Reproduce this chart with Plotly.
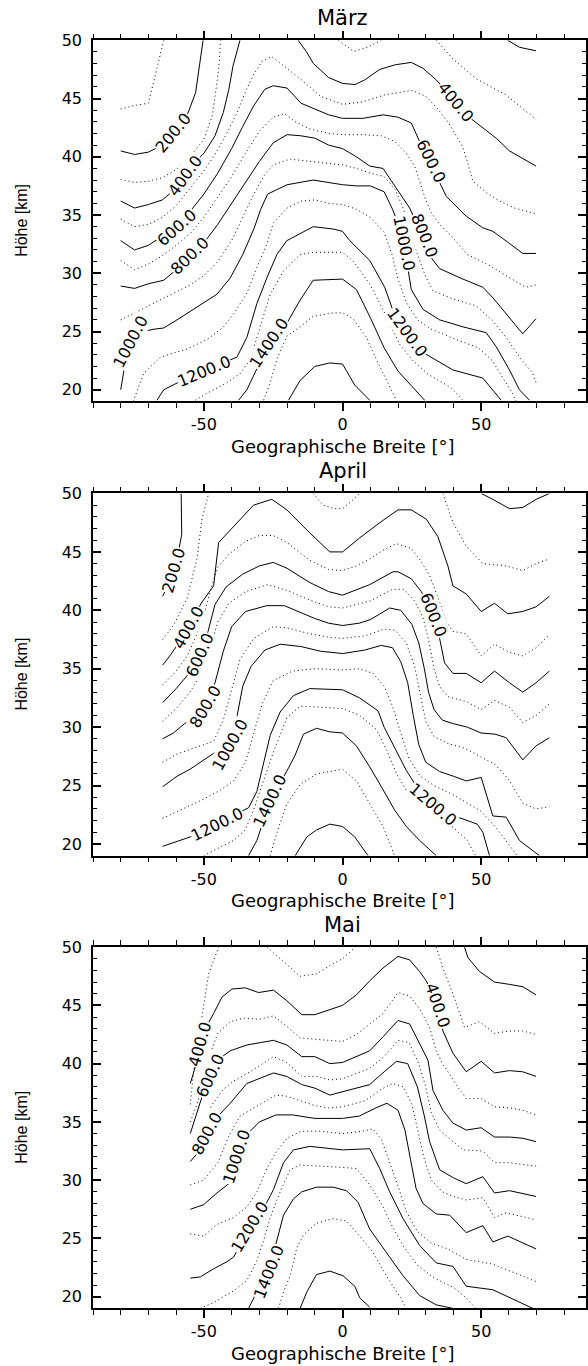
import math
import plotly.graph_objects as go

N = None  # line break (gap) inside a contour level

# ================= März : contour polylines (lat [deg], height [km]) =================
MAR_100 = [(-80,44.1),(-75,44.4),(-70,44.6),(-68.5,46.0),(-66.5,48.0),(-64.5,50.0)]
MAR_200 = [(-80,40.5),(-75,40.2),(-70,40.4),(-65,41.0),(-61,42.1),(-56,43.6),(-53,45.5),(-51.5,48.0),(-50.3,50.0),N,
           (59.6,50.0),(63.8,49.4),(69.8,49.1)]
MAR_300 = [(-80,38.05),(-75,37.8),(-70,37.9),(-65,38.2),(-60,38.9),(-55,40.0),(-50,41.5),(-47,43.5),(-45.5,46.0),(-44.5,48.0),(-44,50.0),N,
           (-1.5,50.0),(1,49.6),(4,49.05),(9,49.4),(14,50.0),N,
           (33.8,50.0),(39.8,48.4),(48.2,46.7),(59,45.3),(69.8,43.2)]
MAR_400 = [(-80,36.2),(-75,35.6),(-70,35.9),(-65,36.3),(-60,37.3),(-56.7,38.4),(-53,39.6),(-50,40.3),(-46,41.8),(-43,43.8),(-41,45.8),(-39.5,47.8),(-37,50.0),N,
           (-16,50.0),(-13,49.0),(-10.5,48.0),(-5,46.8),(0,46.3),(4.5,46.2),(8,46.6),(13.4,47.5),(19,47.9),(24.8,48.1),(29,47.6),(33.8,46.6),
           (37.5,45.6),(41,44.7),(44,43.7),(48.2,42.9),(55.4,41.6),(60.2,40.5),(69.8,39.2)]
MAR_500 = [(-80,34.65),(-75,34.0),(-70,34.2),(-65,34.8),(-60,35.8),(-55,37.3),(-50,38.8),(-46,40.2),(-42,41.9),(-38,43.8),(-35,45.6),(-32,47.1),
           (-29,48.2),(-25.5,48.6),(-20,47.6),(-15.3,46.7),(-8,45.2),(0,44.5),(7,44.7),(15,45.3),(25,45.7),(30,45.2),(34,44.2),(38,43.0),
           (41,41.8),(43.4,40.8),(45,39.6),(47,37.9),(52,36.9),(56.6,36.2),(62,35.6),(69.8,35.1)]
MAR_600 = [(-80,32.8),(-75,32.0),(-70,32.4),(-65,33.2),(-59.7,33.9),(-55,35.3),(-50,36.8),(-45,38.6),(-40,40.7),(-36,42.6),(-32,44.4),(-28,45.8),
           (-25,46.1),(-20,45.9),(-15,44.6),(-10,44.1),(-5,43.6),(0,43.3),(7.4,43.3),(14.6,43.6),(20,43.4),(24.8,42.9),(27.8,41.3),(32,39.6),
           (35,37.8),(37.4,36.6),(44.6,34.9),(50.6,33.9),(54.2,33.6),(60,32.6),(65,31.7),(69.8,31.7)]
MAR_700 = [(-80,31.1),(-75,30.3),(-70,30.8),(-65,31.5),(-60,32.4),(-55,33.4),(-50,34.8),(-45,36.5),(-40,38.3),(-35,40.3),(-30,42.2),(-25,43.4),
           (-21,43.7),(-17,43.0),(-12,42.4),(-5,42.0),(0,41.9),(7,41.9),(14,41.8),(19,41.3),(23,40.3),(26,39.2),(28,37.8),(30,36.3),(32,35.2),
           (35,34.2),(40,33.0),(45,31.6),(52,30.8),(57,30.1),(62,29.4),(66,28.8),(69.8,29.0)]
MAR_800 = [(-80,28.9),(-75,28.7),(-70,29.1),(-64.5,29.4),(-60,30.3),(-54.9,31.5),(-50,32.6),(-45,34.2),(-40,36.0),(-35,37.8),(-30,39.6),(-25,41.2),
           (-20,41.9),(-15,41.8),(-10,41.6),(-5,41.0),(0,40.7),(5,40.0),(9.8,39.2),(14.6,39.0),(19.4,37.3),(24.2,35.6),(26.5,34.4),(29.4,33.2),
           (31.4,31.5),(35,30.4),(43.4,29.5),(50.6,28.8),(54.2,27.9),(59,26.5),(65,24.8),(69.8,26.1)]
MAR_900 = [(-80,26.0),(-75,26.6),(-70,27.2),(-65,27.8),(-60,28.4),(-55,29.0),(-50,29.8),(-45,31.0),(-40,32.8),(-36,34.8),(-32,36.8),(-28,38.5),
           (-25,39.3),(-19,39.8),(-10.6,39.6),(0,39.3),(5,39.0),(10,38.6),(15,38.3),(19,37.2),(22,35.5),(25,33.0),(27.5,31.3),(30,29.7),
           (32.6,28.5),(39.8,27.8),(48.2,27.2),(54.2,25.9),(59,24.5),(63.8,22.8),(68.6,21.4),(69.8,20.6)]
MAR_1000 = [(-80,20.0),(-78.6,22.0),(-76.3,24.1),(-72,25.0),(-68,25.2),(-64.5,25.3),(-59.7,26.0),(-55,26.7),(-51,27.3),(-45.3,28.2),(-40.5,29.6),
            (-36,31.6),(-32,33.8),(-29.5,35.5),(-27,36.8),(-20,37.6),(-10.6,38.0),(-5,37.8),(0,37.6),(5,37.5),(10,37.5),(15,37.0),(18,35.5),
            (20.5,34.0),(22,32.6),(23.5,30.5),(24.8,28.6),(29,26.9),(35,26.0),(43.4,25.4),(51.8,24.9),(55.4,23.7),(60.2,21.7),(63.8,20.0),(67.4,19.1)]
MAR_1100 = [(-75.5,19.0),(-71.7,21.4),(-65.7,22.8),(-56.1,23.5),(-48.9,24.3),(-42.9,25.4),(-39.3,26.5),(-34.5,28.3),(-30.9,30.5),(-27.3,32.5),
            (-25,34.3),(-20,35.6),(-15,36.2),(-10,36.3),(-5,36.0),(0,35.9),(5,35.5),(10,34.8),(15,33.5),(18,31.5),(20,29.5),(23,27.5),(27,26.0),
            (32,25.2),(40,24.4),(49,23.6),(54,22.5),(58,21.0),(61,19.8),(62.6,19.0)]
MAR_1200 = [(-66.9,19.1),(-64.5,20.0),(-57,20.9),(-50.1,21.6),(-44,22.2),(-38.1,22.8),(-34.5,24.5),(-30.9,27.4),(-27.3,29.6),(-23.7,31.6),
            (-20.1,32.8),(-17.7,33.1),(-10.6,34.0),(-3.4,33.8),(0,33.6),(2.6,32.8),(9.8,31.1),(15.2,28.8),(18.2,26.8),(20.5,25.8),(23.3,24.9),
            (26,24.0),(29,23.2),(39.8,21.7),(50.6,21.0),(57.2,19.1)]
MAR_1300 = [(-53.1,19.1),(-48.9,19.7),(-41.7,20.6),(-36.9,21.4),(-33.3,22.6),(-29.7,25.4),(-26.1,28.2),(-21.3,30.2),(-15.3,31.6),(-10.6,31.8),
            (0,31.8),(4,31.0),(10,29.0),(16,26.2),(20.6,23.9),(25.4,22.5),(31,21.3),(39,20.2),(43.4,19.1)]
MAR_1400 = [(-37.5,19.1),(-34.5,20.0),(-30.5,22.0),(-26.7,24.0),(-20.1,25.7),(-15.3,27.7),(-10.6,29.4),(-3.4,29.5),(0,29.5),(5,28.6),(10,26.2),
            (15,23.6),(20,21.6),(25,20.3),(29.6,19.1)]
MAR_1500 = [(-28.5,19.1),(-26.1,20.6),(-23.7,22.6),(-20.1,24.6),(-15.3,25.4),(-10.6,26.3),(-3.4,26.6),(0,26.6),(3.8,26.1),(8.6,24.5),(12.2,22.6),
            (15.8,20.9),(19.4,19.1)]
MAR_1600 = [(-19.5,19.1),(-15.3,20.8),(-10,22.0),(-4.6,22.3),(0,22.2),(4.4,20.4),(9.8,19.1)]
MAR_LABELS = [(200,-61),(400,-56.7),(600,-59.7),(800,-54.9),(1000,-76.3),(1200,-50.1),(1400,-26.7),
              (400,41),(600,32),(800,29.4),(1000,22),(1200,23.3)]

# ================= April =================
APR_200 = [(-64.9,41.2),(-62.7,42.2),(-60.9,43.4),(-59.2,45.0),(-58.0,46.5),(-58.0,48.5),(-58.2,50.0),N,
           (50,50.0),(54.2,49.5),(60.2,48.7),(65,48.8),(69.8,49.5),(74.6,50.0)]
APR_300 = [(-64.9,37.5),(-61,38.7),(-56.1,41.0),(-52.5,44.4),(-50.7,47.8),(-48.3,50.0),N,
           (-10.6,50.0),(-7,49.0),(-3,48.7),(0,48.7),(3,49.3),(6.2,50.0),N,
           (36.2,50.0),(39.8,47.5),(44.6,45.5),(50.6,44.0),(59,43.8),(65,43.4),(69.8,44.0),(74.6,44.4)]
APR_400 = [(-64.9,35.3),(-62,36.2),(-58.5,37.4),(-55.5,38.5),(-51,40.6),(-46.5,42.1),(-44.7,45.8),(-39.3,47.2),(-32.1,49.0),(-25.5,49.5),
           (-20.1,48.6),(-11.7,46.6),(-4.6,45.0),(0,45.0),(6.2,46.2),(13.4,47.5),(20,48.6),(24.8,48.6),(30.2,47.8),(34.4,46.3),(38,43.8),
           (39.8,42.1),(44.6,41.4),(50,39.9),(54.8,40.6),(59.6,39.7),(65,39.9),(69.8,40.3),(74.6,41.2)]
APR_500 = [(-64.9,33.6),(-60,34.8),(-56,36.1),(-53,37.7),(-50,39.6),(-47.5,41.8),(-45,43.7),(-41,44.8),(-35,45.9),(-30,46.4),(-25,46.4),
           (-20,45.8),(-12,44.3),(-5,43.5),(0,43.4),(5,43.8),(9.8,44.4),(15,45.2),(19.4,45.7),(24.8,45.3),(28,44.3),(31.4,43.0),(35,40.7),
           (37.5,39.0),(39.8,38.2),(44.6,38.0),(50,36.1),(54.8,37.1),(60.2,36.4),(65,36.1),(69.8,36.8),(74.6,37.9)]
APR_600 = [(-64.9,32.1),(-60,33.3),(-55,34.7),(-51.3,36.2),(-48.5,38.2),(-46,40.5),(-42,42.0),(-36,43.1),(-30,43.8),(-25,44.1),(-20,43.6),
           (-12,42.4),(-5,41.6),(0,41.3),(9.8,42.2),(18.2,43.3),(20,43.3),(24.8,42.7),(28.4,41.6),(32.6,39.6),(35,37.6),(36.8,35.5),(39.8,34.6),
           (44.6,34.6),(50,33.8),(54.8,34.8),(60.2,33.8),(65,33.0),(69.8,33.8),(74.6,34.8)]
APR_700 = [(-64.9,30.5),(-60,31.6),(-55,33.0),(-51,34.6),(-48,36.6),(-45,39.0),(-41,40.6),(-35,41.6),(-27,42.2),(-20,41.7),(-12,40.9),(-5,40.3),
           (0,40.2),(10,40.8),(18,41.8),(22,41.8),(26,40.8),(29,39.4),(31,37.5),(33,35.0),(35,33.5),(38,32.6),(44.6,32.2),(50,31.5),(54.8,32.3),
           (60.2,31.7),(65,30.4),(69.8,31.0),(74.6,32.0)]
APR_800 = [(-64.9,29.0),(-61,29.5),(-57,30.3),(-53,31.0),(-49.5,31.8),(-46,33.8),(-43,36.5),(-40,38.6),(-35,39.9),(-27.3,40.4),(-21,40.4),
           (-15,39.8),(-10,39.3),(-5,38.9),(0,38.7),(6,38.9),(10,39.2),(17,40.2),(21,40.0),(25,38.8),(27.5,37.2),(29.5,35.0),(31,33.0),(33,31.5),
           (36,30.6),(40,30.3),(45,30.0),(50,29.5),(55,29.4),(59,29.1),(65,27.2),(69.8,28.4),(74.6,29.1)]
APR_900 = [(-64.9,27.0),(-59.7,27.7),(-51.3,28.4),(-46.5,28.8),(-43,30.6),(-40,33.2),(-37,35.8),(-32,37.6),(-25,38.6),(-20,38.5),(-12,38.0),
           (-5,37.7),(0,37.6),(8,37.8),(15,38.4),(19,38.3),(23,37.2),(26,35.2),(28,32.8),(30,30.5),(33,29.2),(38,28.6),(44,28.2),(50,27.4),
           (55,26.8),(60,25.5),(65,23.5),(69.8,23.0),(74.6,23.2)]
APR_1000 = [(-64.9,24.9),(-59.7,25.8),(-55,26.4),(-50,27.2),(-45,28.0),(-40.5,28.5),(-38,31.0),(-36,33.5),(-33,35.2),(-28,36.6),(-22.5,37.1),
            (-15,36.9),(-8,36.5),(0,36.3),(8,36.6),(14,37.0),(18,36.8),(21,35.6),(23.5,33.8),(25.5,31.0),(27.5,28.5),(30,27.0),(35,26.2),
            (40,25.8),(44.6,25.4),(50,25.7),(54.2,22.4),(59,22.3),(63.8,20.3),(71,19.0)]
APR_1100 = [(-64.9,22.2),(-58.5,22.9),(-51.3,23.7),(-44.1,24.6),(-39.3,25.4),(-35,27.0),(-32,29.5),(-29,32.0),(-25,34.0),(-18,34.8),(-10,35.0),
            (0,34.9),(6,35.0),(11,34.6),(15,33.5),(18,31.8),(21,29.5),(24,27.3),(28,25.8),(33,25.0),(40,24.2),(45,23.5),(50,22.8),(55,21.5),
            (60,20.0),(63,19.0)]
APR_1200 = [(-64.9,19.8),(-55,20.6),(-45.3,21.7),(-38,22.6),(-33.9,23.1),(-30.9,24.5),(-28.5,26.8),(-26.1,29.3),(-22.5,31.3),(-17.7,32.7),
            (-11.8,33.3),(0,33.2),(6.2,32.5),(12.8,31.4),(15,30.0),(19.4,28.0),(23,26.3),(27,24.8),(32.6,23.4),(38,22.6),(44.6,22.0),(48.6,21.7),
            (50.6,21.0),(53,19.0)]
APR_1300 = [(-50.1,19.0),(-39.3,20.3),(-35.1,21.2),(-32.1,22.9),(-28.5,25.4),(-24.9,27.9),(-20.1,30.8),(-15.3,31.8),(0,31.6),(6.2,31.0),
            (12.2,29.8),(16,28.0),(19.5,26.0),(23,24.6),(27,23.6),(33,22.5),(40,21.4),(45,20.3),(48,19.0)]
APR_1400 = [(-33.9,19.0),(-30.9,20.3),(-28.5,22.0),(-26.1,23.7),(-19.5,26.5),(-17.1,27.6),(-14.1,29.4),(-9.4,29.9),(-4.6,29.6),(0,29.5),
            (5,28.4),(9.8,26.6),(14,24.9),(18.8,22.9),(23,21.5),(27.8,20.3),(33.8,19.0)]
APR_1500 = [(-26.1,19.0),(-23.1,21.4),(-20.1,23.4),(-15.3,25.1),(-9.4,26.0),(0,26.4),(5,25.4),(9.8,23.4),(14.6,21.5),(18.8,19.0)]
APR_1600 = [(-17.1,19.0),(-12.9,20.6),(-9.4,21.2),(-4.6,21.7),(0,21.5),(4.4,20.6),(9.2,19.0)]
APR_LABELS = [(200,-60.9),(400,-55.5),(600,-51.3),(800,-49.5),(1000,-40.5),(1200,-45.3),(1400,-26.1),(600,32.6),(1200,32.6)]

# ================= Mai =================
MAI_200 = [(44,50.0),(45.2,49.1),(49.4,47.9),(54.8,47.0),(60.2,46.8),(65,46.6),(69.8,45.9)]
MAI_300 = [(-54.9,36.5),(-54.2,38.5),(-53.7,39.4),(-52.5,41.5),(-51.3,43.1),(-48.3,47.7),(-44.7,50.0),N,
           (-27.3,50.0),(-20.1,48.5),(-15.3,47.5),(-9.4,47.7),(-4,48.5),(0,49.0),(3.8,49.8),(4.6,50.0),N,
           (33.8,50.0),(36.2,48.2),(39.8,46.0),(44,43.1),(49.4,43.6),(54.8,42.6),(60.2,42.8),(65,42.8),(69.8,42.5)]
MAI_400 = [(-54.9,38.3),(-53,39.8),(-51.3,41.7),(-48.8,43.3),(-46.5,44.3),(-43.5,45.7),(-39.9,46.4),(-35.1,46.5),(-30.3,46.1),(-24.9,46.3),
           (-20.1,45.4),(-14.7,44.2),(-10,44.2),(-4.6,44.6),(0,45.0),(5,45.9),(9.8,47.1),(14.6,48.2),(20,49.2),(24.2,48.9),(27.8,47.9),
           (30.2,47.1),(34.4,45.0),(36.2,42.8),(39.8,40.9),(44.6,39.3),(50,40.2),(54.8,39.2),(60.2,39.4),(65,39.3),(69.8,38.9)]
MAI_500 = [(-54.9,35.0),(-52.5,36.5),(-50,38.5),(-47.5,41.0),(-45,42.6),(-40.5,43.6),(-35.7,43.9),(-30,43.8),(-24.9,44.1),(-20.1,43.2),
           (-15.3,42.2),(-10,42.1),(-5,42.0),(0,41.9),(5,42.5),(9.8,43.4),(14.6,44.3),(20,46.1),(24.2,45.8),(27.8,44.7),(31.4,43.1),(33.8,41.1),
           (36,40.0),(38.6,39.1),(41.5,38.0),(44.6,37.0),(50,37.0),(54.8,36.3),(60.2,36.2),(65,36.0),(69.8,35.6)]
MAI_600 = [(-54.9,34.0),(-51.3,36.7),(-47.7,39.0),(-44,40.5),(-40.5,41.1),(-34.5,41.6),(-29.7,41.8),(-24.9,42.0),(-20.1,41.6),(-14.7,40.6),
           (-10,40.6),(-4.6,40.0),(0,40.1),(9.8,41.1),(14.6,42.3),(20,43.7),(24.2,43.4),(27.8,41.7),(30.8,40.3),(32.6,37.7),(36.2,36.0),
           (39.8,34.9),(44.6,34.3),(50,34.5),(54.8,33.7),(60.2,33.7),(65,33.6),(69.8,33.3)]
MAI_700 = [(-54.9,32.5),(-51,34.5),(-47,36.5),(-43,37.8),(-39.3,38.5),(-33.3,39.3),(-24.9,40.6),(-20.1,40.1),(-14.7,38.9),(-9.4,38.9),
           (-4.6,38.6),(0,38.7),(9.8,39.6),(15,40.6),(20,42.0),(24,41.8),(27.5,40.0),(30,38.0),(32,35.8),(35,34.3),(40,33.3),(43.4,32.6),
           (50.6,32.5),(54.8,31.5),(60.2,31.5),(69.8,31.2)]
MAI_800 = [(-54.9,31.6),(-51.3,32.6),(-48.9,34.0),(-44.5,35.6),(-40.5,36.6),(-34.5,38.3),(-24.9,39.2),(-20.1,38.9),(-14.7,38.2),(-10,37.9),
           (-4.6,37.3),(0,37.6),(9.8,38.2),(15,39.3),(19.5,40.2),(23.5,40.0),(27,38.0),(29.5,35.5),(31.4,33.3),(35,30.9),(40,30.2),(44.6,29.7),
           (50.6,30.3),(54.8,28.9),(60.2,29.1),(69.8,28.6)]
MAI_900 = [(-54.9,29.6),(-50.1,30.0),(-45,31.5),(-41,33.8),(-37,35.5),(-30,36.5),(-24,37.3),(-20,37.2),(-15,36.8),(-10,36.4),(-5,36.2),
           (0,36.3),(8,36.8),(14,37.8),(18,38.3),(22,38.0),(25,36.5),(27.5,34.0),(29.5,31.8),(32,30.0),(36,29.0),(40,28.6),(44.6,28.3),
           (50.6,28.5),(54.8,26.8),(59,27.2),(69.8,26.6)]
MAI_1000 = [(-54.9,27.5),(-50.1,27.9),(-45.3,28.9),(-40.5,29.8),(-38.1,32.0),(-35,33.8),(-30,35.0),(-24,35.6),(-18,35.6),(-10,35.3),(0,35.3),
            (6,35.5),(12,36.2),(16,36.6),(20,36.0),(22.5,34.3),(24.5,31.8),(26.5,29.3),(29,28.0),(33.8,27.1),(38.6,27.0),(44.6,25.5),(50.6,26.1),
            (54.2,24.7),(59.6,25.2),(69.8,24.1)]
MAI_1100 = [(-54.9,25.4),(-50.1,25.2),(-45.3,26.2),(-39.3,26.8),(-34.5,27.7),(-30.9,29.0),(-27.3,31.0),(-23.7,32.5),(-20,33.6),(-15,34.2),
            (-8,34.2),(0,34.0),(7,34.2),(11,34.4),(14,33.5),(17,31.5),(20,29.5),(23,27.3),(27,25.6),(32,24.6),(38,24.1),(44.6,23.2),(54.2,22.8),
            (69.8,21.3)]
MAI_1200 = [(-54.9,21.6),(-51.3,21.7),(-46.5,22.4),(-41.7,23.0),(-39.3,23.4),(-33.3,26.0),(-27.3,28.1),(-24.9,29.2),(-21.3,31.5),(-17.7,32.6),
            (-11.8,32.9),(0,32.6),(9.8,32.7),(13.4,31.0),(17,29.0),(21.8,26.7),(27.8,24.4),(33.8,22.9),(39.8,22.6),(44.6,20.9),(54.2,20.6),
            (68.6,19.0)]
MAI_1300 = [(-51.3,19.0),(-46.5,19.5),(-39.3,20.5),(-34.5,21.4),(-30.9,23.1),(-28.5,24.8),(-26.1,26.8),(-22.5,29.0),(-18.9,30.9),(-15.3,31.3),
            (0,31.1),(5,31.0),(9.8,29.6),(14,28.0),(18,26.0),(22,24.3),(27,22.7),(33,21.6),(40,20.8),(44.6,19.9),(48,19.0)]
MAI_1400 = [(-33.9,19.0),(-30.9,20.4),(-26.7,22.1),(-23.7,24.7),(-21.3,27.0),(-17.7,28.4),(-14.7,29.0),(-9.4,29.4),(-3.4,29.4),(1.4,29.1),
            (5.6,28.1),(9.8,25.8),(15.8,23.8),(21.8,21.8),(27.8,20.1),(33.8,19.3),(39.8,19.0)]
MAI_1500 = [(-23.1,19.0),(-21.3,20.4),(-18.9,21.8),(-16.5,24.2),(-14.1,25.3),(-9.4,26.3),(-3.4,26.7),(1.4,26.5),(6.2,25.2),(11,23.8),
            (15.8,21.8),(21.2,19.8),(23,19.0)]
MAI_1600 = [(-15.3,19.0),(-12.9,20.4),(-9.4,21.9),(-4.6,22.2),(0.2,21.8),(4.4,20.9),(6.2,19.9),(9.8,19.1)]
MAI_LABELS = [(400,-51.3),(600,-47.7),(800,-48.9),(1000,-38.1),(1200,-33.3),(1400,-26.7),(400,34.4)]

# ================= axes =================
X_RANGE = [-90, 87.8]
Y_RANGE = [19, 50]
X_TICKS = [-50, 0, 50]
X_TICKTEXT = ["-50", "0", "50"]
Y_TICKS = [20, 25, 30, 35, 40, 45, 50]
TITLES = ["März", "April", "Mai"]
X_TITLE = "Geographische Breite [°]"
Y_TITLE = "Höhe [km]"

PANELS = [
    (TITLES[0], {100: MAR_100, 200: MAR_200, 300: MAR_300, 400: MAR_400, 500: MAR_500, 600: MAR_600, 700: MAR_700,
                 800: MAR_800, 900: MAR_900, 1000: MAR_1000, 1100: MAR_1100, 1200: MAR_1200, 1300: MAR_1300,
                 1400: MAR_1400, 1500: MAR_1500, 1600: MAR_1600}, MAR_LABELS),
    (TITLES[1], {200: APR_200, 300: APR_300, 400: APR_400, 500: APR_500, 600: APR_600, 700: APR_700, 800: APR_800,
                 900: APR_900, 1000: APR_1000, 1100: APR_1100, 1200: APR_1200, 1300: APR_1300, 1400: APR_1400,
                 1500: APR_1500, 1600: APR_1600}, APR_LABELS),
    (TITLES[2], {200: MAI_200, 300: MAI_300, 400: MAI_400, 500: MAI_500, 600: MAI_600, 700: MAI_700, 800: MAI_800,
                 900: MAI_900, 1000: MAI_1000, 1100: MAI_1100, 1200: MAI_1200, 1300: MAI_1300, 1400: MAI_1400,
                 1500: MAI_1500, 1600: MAI_1600}, MAI_LABELS),
]

W, H = 588, 1366
ML = 93
PANEL_PX = [(31.5, 395.0), (487.7, 852.3), (944.3, 1308.0)]  # top/bottom pixel rows of each plot area
DOMAINS = [(1 - b / H, 1 - t / H) for t, b in PANEL_PX]
PX_PER_DEG = (W - ML) / (X_RANGE[1] - X_RANGE[0])

FONT_H = "DejaVu Sans, Verdana, sans-serif"
FONT_V = "Liberation Sans, Arial, sans-serif"

fig = go.Figure()
layout = dict(width=W, height=H, margin=dict(l=ML, r=0, t=0, b=0), paper_bgcolor="white",
              plot_bgcolor="white", showlegend=False, hovermode=False)

for i, (title, levels, labels) in enumerate(PANELS):
    sfx = "" if i == 0 else str(i + 1)
    xa, ya = "x" + sfx, "y" + sfx
    px_per_km = (PANEL_PX[i][1] - PANEL_PX[i][0]) / (Y_RANGE[1] - Y_RANGE[0])
    for lev, pts in levels.items():
        xs = [p[0] if p is not None else None for p in pts]
        ys = [p[1] if p is not None else None for p in pts]
        dash = "solid" if lev % 200 == 0 else "1px,3px"
        fig.add_trace(go.Scatter(x=xs, y=ys, mode="lines", xaxis=xa, yaxis=ya,
                                 line=dict(color="black", width=1, dash=dash),
                                 hoverinfo="skip", connectgaps=False))
    for lev, lat in labels:
        pts = levels[lev]
        idx = min((k for k, p in enumerate(pts) if p is not None), key=lambda k: abs(pts[k][0] - lat))
        prev = pts[idx - 1] if idx > 0 and pts[idx - 1] is not None else pts[idx]
        nxt = pts[idx + 1] if idx + 1 < len(pts) and pts[idx + 1] is not None else pts[idx]
        dx = (nxt[0] - prev[0]) * PX_PER_DEG
        dy = -(nxt[1] - prev[1]) * px_per_km
        ang = math.degrees(math.atan2(dy, dx))
        if ang > 90:
            ang -= 180
        elif ang <= -90:
            ang += 180
        fig.add_annotation(x=pts[idx][0], y=pts[idx][1], xref=xa, yref=ya, text=f"{lev:.1f}",
                           showarrow=False, textangle=ang, bgcolor="white", borderpad=0,
                           font=dict(family=FONT_H, size=16, color="black"))

    layout["xaxis" + sfx] = dict(domain=[0, 1], range=X_RANGE, anchor=ya, tickmode="array", tickvals=X_TICKS,
                                 ticktext=X_TICKTEXT, ticks="outside", ticklen=8, tickwidth=1.5, tickcolor="black",
                                 showline=True, linecolor="black", linewidth=1.5, mirror="ticks", showgrid=False,
                                 zeroline=False, ticklabelstandoff=0,
                                 tickfont=dict(family=FONT_H, size=16, color="black"),
                                 minor=dict(tickmode="linear", tick0=0, dtick=10, ticks="outside", ticklen=5,
                                            tickwidth=1, tickcolor="black", showgrid=False))
    layout["yaxis" + sfx] = dict(domain=list(DOMAINS[i]), range=Y_RANGE, anchor=xa, tickmode="array",
                                 tickvals=Y_TICKS, ticks="inside", ticklen=8, tickwidth=1.5, tickcolor="black",
                                 showline=True, linecolor="black", linewidth=1.5, mirror="ticks", showgrid=False,
                                 zeroline=False, ticklabelstandoff=6,
                                 tickfont=dict(family=FONT_H, size=16, color="black"),
                                 minor=dict(tickmode="linear", tick0=0, dtick=1, ticks="inside", ticklen=4,
                                            tickwidth=1, tickcolor="black", showgrid=False))
    fig.add_annotation(x=0, y=1, xref=xa, yref=ya + " domain", text=title, showarrow=False,
                       yanchor="middle", yshift=22, font=dict(family=FONT_H, size=21, color="black"))
    fig.add_annotation(x=0, y=0, xref=xa, yref=ya + " domain", text=X_TITLE, showarrow=False,
                       yanchor="middle", yshift=-45, font=dict(family=FONT_H, size=18, color="black"))
    fig.add_annotation(x=0, y=0.5, xref="paper", yref=ya + " domain", text=Y_TITLE, showarrow=False,
                       xanchor="center", yanchor="middle", xshift=-71, textangle=-90,
                       font=dict(family=FONT_V, size=16, color="black"))

fig.update_layout(**layout)
fig.write_html("out.html")
